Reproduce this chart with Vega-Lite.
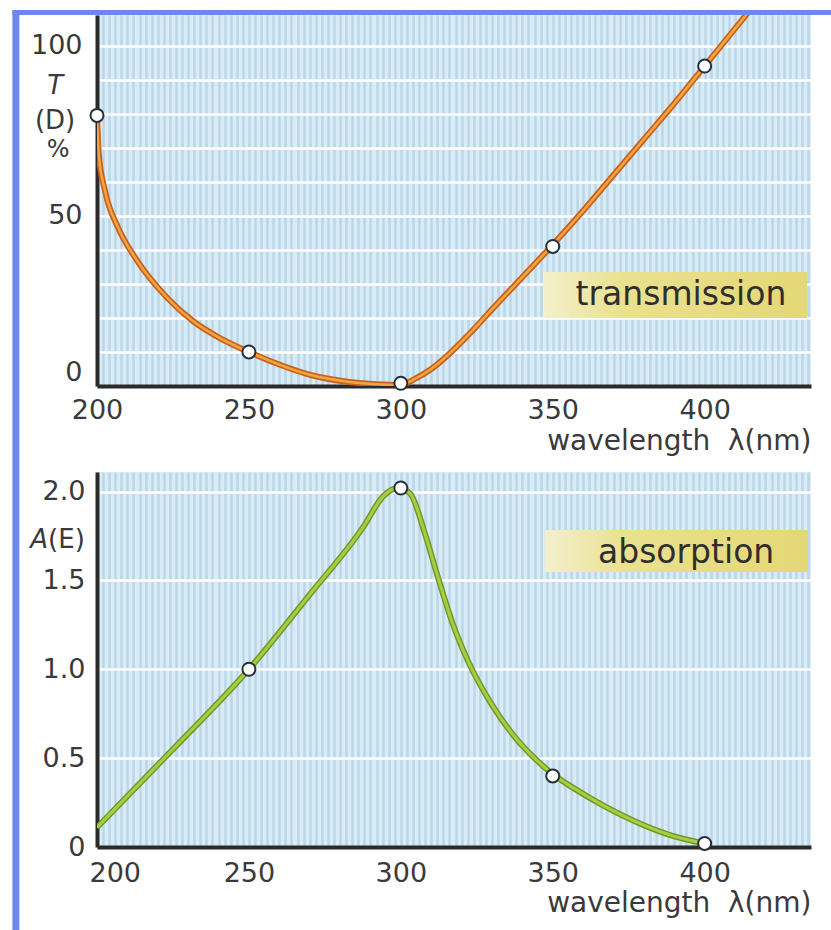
{
  "$schema": "https://vega.github.io/schema/vega-lite/v6.json",
  "background": "white",
  "padding": {"left": 9, "top": 6, "right": 5, "bottom": 5},
  "autosize": {"type": "pad"},
  "bounds": "flush",
  "spacing": 86,
  "datasets": {
    "transmission_curve": [
      {"wavelength": 200, "T": 79.5},
      {"wavelength": 200.6, "T": 68},
      {"wavelength": 202.6, "T": 57.5},
      {"wavelength": 206.9, "T": 46.6},
      {"wavelength": 212.5, "T": 37.8},
      {"wavelength": 223, "T": 26},
      {"wavelength": 232, "T": 18.8},
      {"wavelength": 240, "T": 14.3},
      {"wavelength": 250, "T": 10},
      {"wavelength": 260, "T": 6.3},
      {"wavelength": 270, "T": 3.3},
      {"wavelength": 283, "T": 1.2},
      {"wavelength": 292, "T": 0.5},
      {"wavelength": 300, "T": 0.3},
      {"wavelength": 304, "T": 1.8},
      {"wavelength": 310, "T": 5},
      {"wavelength": 316, "T": 9.5},
      {"wavelength": 322, "T": 14.8},
      {"wavelength": 330, "T": 22.5},
      {"wavelength": 340, "T": 32},
      {"wavelength": 350, "T": 41.5},
      {"wavelength": 360, "T": 51.5},
      {"wavelength": 370, "T": 62},
      {"wavelength": 380, "T": 72.5},
      {"wavelength": 390, "T": 83},
      {"wavelength": 400, "T": 94},
      {"wavelength": 410, "T": 105},
      {"wavelength": 415, "T": 110.5}
    ],
    "transmission_points": [
      {"wavelength": 200, "T": 79.5},
      {"wavelength": 250, "T": 10},
      {"wavelength": 300, "T": 0.8},
      {"wavelength": 350, "T": 41},
      {"wavelength": 400, "T": 94}
    ],
    "absorption_curve": [
      {"wavelength": 200, "A": 0.11},
      {"wavelength": 225, "A": 0.55},
      {"wavelength": 250, "A": 1.0},
      {"wavelength": 270, "A": 1.42},
      {"wavelength": 288, "A": 1.81},
      {"wavelength": 294, "A": 1.97},
      {"wavelength": 299, "A": 2.02},
      {"wavelength": 303, "A": 1.99},
      {"wavelength": 308, "A": 1.76},
      {"wavelength": 312, "A": 1.53},
      {"wavelength": 317, "A": 1.26},
      {"wavelength": 322, "A": 1.05},
      {"wavelength": 330, "A": 0.8},
      {"wavelength": 337, "A": 0.63},
      {"wavelength": 344, "A": 0.5},
      {"wavelength": 350, "A": 0.41},
      {"wavelength": 357, "A": 0.33},
      {"wavelength": 367, "A": 0.23},
      {"wavelength": 379, "A": 0.13},
      {"wavelength": 390, "A": 0.06},
      {"wavelength": 400, "A": 0.02}
    ],
    "absorption_points": [
      {"wavelength": 250, "A": 1.0},
      {"wavelength": 300, "A": 2.02},
      {"wavelength": 350, "A": 0.4},
      {"wavelength": 400, "A": 0.02}
    ]
  },
  "config": {
    "view": {"fill": "#d9ecf6", "stroke": null},
    "axis": {
      "labelFont": "DejaVu Sans",
      "labelFontSize": 27,
      "labelColor": "#3a3a3a",
      "titleFont": "DejaVu Sans",
      "titleFontWeight": "normal",
      "titleColor": "#3a3a3a",
      "ticks": false,
      "domainColor": "#2a2a2a",
      "domainWidth": 4,
      "labelFlush": false,
      "labelOverlap": false
    },
    "text": {"font": "DejaVu Sans"}
  },
  "vconcat": [
    {
      "width": 714,
      "height": 371,
      "layer": [
        {
          "data": {"name": "transmission_curve"},
          "mark": {"type": "line", "color": "#c8621c", "strokeWidth": 6, "clip": true, "interpolate": "monotone"},
          "encoding": {
            "x": {
              "field": "wavelength", "type": "quantitative",
              "scale": {"domain": [200, 435], "nice": false},
              "title": "wavelength \u00a0λ(nm)",
              "axis": {
                "tickCount": 118,
                "labelExpr": "datum.value % 50 === 0 ? datum.label : ''",
                "grid": true, "gridColor": "#bad7ea", "gridWidth": 2.5,
                "labelPadding": 11,
                "titleFontSize": 28, "titleAnchor": "end", "titleAlign": "right", "titlePadding": 4
              }
            },
            "y": {
              "field": "T", "type": "quantitative",
              "scale": {"domain": [0, 109], "nice": false},
              "title": null,
              "axis": {
                "values": [0, 10, 20, 30, 40, 50, 60, 70, 80, 90, 100],
                "tickCount": 40,
                "labelExpr": "datum.value % 50 === 0 ? datum.label : ''",
                "labelFlush": true,
                "grid": true, "gridColor": "#ffffff", "gridWidth": 2.5,
                "labelPadding": 15
              }
            }
          }
        },
        {
          "data": {"name": "transmission_curve"},
          "mark": {"type": "line", "color": "#f2a542", "strokeWidth": 2.5, "clip": true, "interpolate": "monotone"},
          "encoding": {
            "x": {"field": "wavelength", "type": "quantitative", "scale": {"domain": [200, 435], "nice": false}, "title": "wavelength \u00a0λ(nm)"},
            "y": {"field": "T", "type": "quantitative", "scale": {"domain": [0, 109], "nice": false}, "title": null}
          }
        },
        {
          "data": {"name": "transmission_points"},
          "mark": {"type": "point", "filled": true, "fill": "#ffffff", "stroke": "#26303c", "strokeWidth": 2, "size": 170, "opacity": 1},
          "encoding": {
            "x": {"field": "wavelength", "type": "quantitative", "scale": {"domain": [200, 435], "nice": false}, "title": "wavelength \u00a0λ(nm)"},
            "y": {"field": "T", "type": "quantitative", "scale": {"domain": [0, 109], "nice": false}, "title": null}
          }
        },
        {
          "data": {"values": [{}]},
          "mark": {"type": "rect", "color": {"gradient": "linear", "x1": 0, "x2": 1, "y1": 0, "y2": 0, "stops": [{"offset": 0, "color": "#f3f0cc"}, {"offset": 0.3, "color": "#eae18f"}, {"offset": 1, "color": "#e4d775"}]}},
          "encoding": {
            "x": {"datum": 346.8, "type": "quantitative", "scale": {"domain": [200, 435], "nice": false}, "title": "wavelength \u00a0λ(nm)"},
            "x2": {"datum": 433.7},
            "y": {"datum": 20.0, "type": "quantitative", "scale": {"domain": [0, 109], "nice": false}, "title": null},
            "y2": {"datum": 33.5}
          }
        },
        {
          "data": {"values": [{"label": "transmission"}]},
          "mark": {"type": "text", "fontSize": 33, "color": "#2e2e2e", "align": "center", "baseline": "middle"},
          "encoding": {
            "text": {"field": "label"},
            "x": {"datum": 392.2, "type": "quantitative", "scale": {"domain": [200, 435], "nice": false}, "title": "wavelength \u00a0λ(nm)"},
            "y": {"datum": 26.7, "type": "quantitative", "scale": {"domain": [0, 109], "nice": false}, "title": null}
          }
        },
        {
          "data": {"values": [{"label": "T"}]},
          "mark": {"type": "text", "fontSize": 26, "fontStyle": "italic", "color": "#3a3a3a", "align": "center", "baseline": "middle"},
          "encoding": {
            "text": {"field": "label"},
            "x": {"datum": 186.2, "type": "quantitative", "scale": {"domain": [200, 435], "nice": false}, "title": "wavelength \u00a0λ(nm)"},
            "y": {"datum": 88, "type": "quantitative", "scale": {"domain": [0, 109], "nice": false}, "title": null}
          }
        },
        {
          "data": {"values": [{"label": "(D)"}]},
          "mark": {"type": "text", "fontSize": 26, "color": "#3a3a3a", "align": "center", "baseline": "middle"},
          "encoding": {
            "text": {"field": "label"},
            "x": {"datum": 186.2, "type": "quantitative", "scale": {"domain": [200, 435], "nice": false}, "title": "wavelength \u00a0λ(nm)"},
            "y": {"datum": 78, "type": "quantitative", "scale": {"domain": [0, 109], "nice": false}, "title": null}
          }
        },
        {
          "data": {"values": [{"label": "%"}]},
          "mark": {"type": "text", "fontSize": 24, "color": "#3a3a3a", "align": "center", "baseline": "middle"},
          "encoding": {
            "text": {"field": "label"},
            "x": {"datum": 187.2, "type": "quantitative", "scale": {"domain": [200, 435], "nice": false}, "title": "wavelength \u00a0λ(nm)"},
            "y": {"datum": 69.3, "type": "quantitative", "scale": {"domain": [0, 109], "nice": false}, "title": null}
          }
        },
        {
          "data": {"values": [{}]},
          "mark": {"type": "rule", "color": "#6e87ef", "strokeWidth": 7},
          "encoding": {
            "x": {"datum": 173.3, "type": "quantitative", "scale": {"domain": [200, 435], "nice": false}, "title": "wavelength \u00a0λ(nm)"},
            "y": {"datum": 110.5, "type": "quantitative", "scale": {"domain": [0, 109], "nice": false}, "title": null},
            "y2": {"datum": -175}
          }
        },
        {
          "data": {"values": [{}]},
          "mark": {"type": "rule", "color": "#6e87ef", "strokeWidth": 5},
          "encoding": {
            "x": {"datum": 172.15, "type": "quantitative", "scale": {"domain": [200, 435], "nice": false}, "title": "wavelength \u00a0λ(nm)"},
            "x2": {"datum": 460},
            "y": {"datum": 109.73, "type": "quantitative", "scale": {"domain": [0, 109], "nice": false}, "title": null}
          }
        }
      ]
    },
    {
      "width": 714,
      "height": 375,
      "layer": [
        {
          "data": {"name": "absorption_curve"},
          "mark": {"type": "line", "color": "#6f9a28", "strokeWidth": 6, "clip": true, "interpolate": "monotone"},
          "encoding": {
            "x": {
              "field": "wavelength", "type": "quantitative",
              "scale": {"domain": [200, 435], "nice": false},
              "title": "wavelength \u00a0λ(nm)",
              "axis": {
                "tickCount": 118,
                "labelExpr": "datum.value % 50 === 0 ? datum.label : ''",
                "labelFlush": true, "labelFlushOffset": 8,
                "grid": true, "gridColor": "#bad7ea", "gridWidth": 2.5,
                "labelPadding": 13,
                "titleFontSize": 28, "titleAnchor": "end", "titleAlign": "right", "titlePadding": 3
              }
            },
            "y": {
              "field": "A", "type": "quantitative",
              "scale": {"domain": [0, 2.11], "nice": false},
              "title": null,
              "axis": {
                "values": [0, 0.5, 1, 1.5, 2],
                "tickCount": 20,
                "labelExpr": "datum.value === 0 ? '0' : format(datum.value, '.1f')",
                "grid": true, "gridColor": "#ffffff", "gridWidth": 2.5,
                "labelPadding": 12
              }
            }
          }
        },
        {
          "data": {"name": "absorption_curve"},
          "mark": {"type": "line", "color": "#a9cc45", "strokeWidth": 3, "clip": true, "interpolate": "monotone"},
          "encoding": {
            "x": {"field": "wavelength", "type": "quantitative", "scale": {"domain": [200, 435], "nice": false}, "title": "wavelength \u00a0λ(nm)"},
            "y": {"field": "A", "type": "quantitative", "scale": {"domain": [0, 2.11], "nice": false}, "title": null}
          }
        },
        {
          "data": {"name": "absorption_points"},
          "mark": {"type": "point", "filled": true, "fill": "#ffffff", "stroke": "#26303c", "strokeWidth": 2, "size": 170, "opacity": 1},
          "encoding": {
            "x": {"field": "wavelength", "type": "quantitative", "scale": {"domain": [200, 435], "nice": false}, "title": "wavelength \u00a0λ(nm)"},
            "y": {"field": "A", "type": "quantitative", "scale": {"domain": [0, 2.11], "nice": false}, "title": null}
          }
        },
        {
          "data": {"values": [{}]},
          "mark": {"type": "rect", "color": {"gradient": "linear", "x1": 0, "x2": 1, "y1": 0, "y2": 0, "stops": [{"offset": 0, "color": "#f3f0cc"}, {"offset": 0.3, "color": "#eae18f"}, {"offset": 1, "color": "#e4d775"}]}},
          "encoding": {
            "x": {"datum": 347.5, "type": "quantitative", "scale": {"domain": [200, 435], "nice": false}, "title": "wavelength \u00a0λ(nm)"},
            "x2": {"datum": 434},
            "y": {"datum": 1.548, "type": "quantitative", "scale": {"domain": [0, 2.11], "nice": false}, "title": null},
            "y2": {"datum": 1.784}
          }
        },
        {
          "data": {"values": [{"label": "absorption"}]},
          "mark": {"type": "text", "fontSize": 33, "color": "#2e2e2e", "align": "center", "baseline": "middle"},
          "encoding": {
            "text": {"field": "label"},
            "x": {"datum": 393.9, "type": "quantitative", "scale": {"domain": [200, 435], "nice": false}, "title": "wavelength \u00a0λ(nm)"},
            "y": {"datum": 1.655, "type": "quantitative", "scale": {"domain": [0, 2.11], "nice": false}, "title": null}
          }
        },
        {
          "data": {"values": [{"label": "A"}]},
          "mark": {"type": "text", "fontSize": 26, "fontStyle": "italic", "color": "#3a3a3a", "align": "right", "baseline": "middle"},
          "encoding": {
            "text": {"field": "label"},
            "x": {"datum": 183.9, "type": "quantitative", "scale": {"domain": [200, 435], "nice": false}, "title": "wavelength \u00a0λ(nm)"},
            "y": {"datum": 1.728, "type": "quantitative", "scale": {"domain": [0, 2.11], "nice": false}, "title": null}
          }
        },
        {
          "data": {"values": [{"label": "(E)"}]},
          "mark": {"type": "text", "fontSize": 26, "color": "#3a3a3a", "align": "left", "baseline": "middle"},
          "encoding": {
            "text": {"field": "label"},
            "x": {"datum": 183.9, "type": "quantitative", "scale": {"domain": [200, 435], "nice": false}, "title": "wavelength \u00a0λ(nm)"},
            "y": {"datum": 1.728, "type": "quantitative", "scale": {"domain": [0, 2.11], "nice": false}, "title": null}
          }
        }
      ]
    }
  ]
}
